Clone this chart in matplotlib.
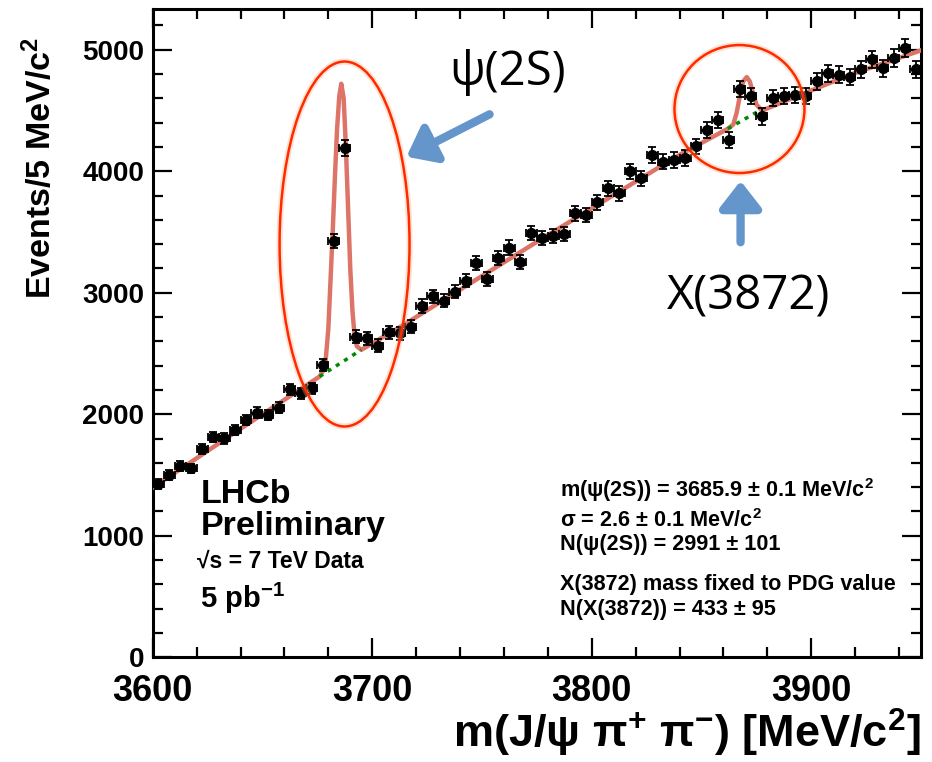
import numpy as np
import matplotlib
matplotlib.use('Agg')
import matplotlib.pyplot as plt
from matplotlib.patches import Ellipse, FancyArrowPatch

plt.rcParams['font.family'] = ['Liberation Sans', 'DejaVu Sans']
plt.rcParams['font.weight'] = 'bold'
plt.rcParams['mathtext.fontset'] = 'custom'
plt.rcParams['mathtext.rm'] = 'Liberation Sans:bold'
plt.rcParams['mathtext.it'] = 'Liberation Sans:bold'
plt.rcParams['mathtext.bf'] = 'Liberation Sans:bold'

# bin centres, 5 MeV bins
mass = np.arange(3602.5, 3950, 5)
counts = [1425, 1499, 1573, 1554, 1711, 1815, 1801, 1870, 1952, 2012,
          1993, 2054, 2205, 2172, 2213, 2405, 3425, 4190, 2638, 2625,
          2565, 2675, 2666, 2721, 2891, 2970, 2935, 3009, 3100, 3243,
          3114, 3284, 3372, 3256, 3490, 3449, 3468, 3484, 3655, 3641,
          3745, 3861, 3820, 3998, 3943, 4135, 4080, 4094, 4108, 4204,
          4341, 4423, 4259, 4676, 4621, 4451, 4602, 4621, 4629, 4621,
          4739, 4808, 4794, 4775, 4841, 4923, 4849, 4932, 5014, 4841]

# fit curve
fit_x = [3600, 3640, 3676, 3678.5, 3680, 3681, 3682, 3683, 3684, 3685,
         3685.9, 3687, 3688, 3689, 3690, 3691, 3692, 3693, 3695, 3713,
         3776, 3840, 3862, 3864.5, 3866, 3867.5, 3869, 3870.6, 3872,
         3873.5, 3875, 3877, 3879, 3917, 3950]
fit_y = [1395, 1880, 2310, 2385, 2700, 3100, 3500, 3950, 4350, 4620,
         4720, 4600, 4200, 3700, 3200, 2850, 2640, 2560, 2530, 2721,
         3430, 4135, 4350, 4385, 4480, 4620, 4740, 4775, 4740,
         4640, 4550, 4510, 4510, 4790, 4995]

# background only, under the two peaks
bkg1_x = [3676, 3695]
bkg1_y = [2310, 2530]
bkg2_x = [3862, 3877]
bkg2_y = [4350, 4505]

W, H = 932, 762
fig = plt.figure(figsize=(W / 100, H / 100), dpi=100)
ax = fig.add_axes([152.7 / W, 1 - 657.2 / H, (921 - 152.7) / W, (657.2 - 9.3) / H])

ax.plot(fit_x, fit_y, color='#dd7468', lw=3.2, zorder=3)
ax.plot(bkg1_x, bkg1_y, color='#008a00', lw=2.5, ls=(0, (1.2, 1.6)), zorder=3)
ax.plot(bkg2_x, bkg2_y, color='#008a00', lw=2.5, ls=(0, (1.2, 1.6)), zorder=3)
ax.errorbar(mass, counts, xerr=2.5, yerr=np.sqrt(counts), fmt='o', color='black',
            ms=7, elinewidth=1.3, capsize=3, capthick=1.3, zorder=4)

for (cx, cy, w, h) in [(3687.4, 3401, 59.2, 3004), (3867.3, 4512, 59.2, 1053)]:
    ax.add_patch(Ellipse((cx, cy), w, h, fill=False, ec='#ffb080', lw=4.5, alpha=0.35, zorder=5))
    ax.add_patch(Ellipse((cx, cy), w, h, fill=False, ec='#ff2a00', lw=1.8, zorder=6))

for (x0, y0, x1, y1) in [(3754.6, 4479, 3714.5, 4109), (3867.8, 3393, 3867.8, 3944)]:
    ax.add_patch(FancyArrowPatch((x0, y0), (x1, y1), arrowstyle='-|>,head_length=0.9,head_width=0.7',
                                 mutation_scale=18, color='#6496cc', lw=6, zorder=6))

ax.set_xlim(3600, 3950)
ax.set_ylim(0, 5333)
ax.set_xticks([3600, 3700, 3800, 3900])
ax.set_xticks(np.arange(3620, 3950, 20), minor=True)
ax.set_yticks([0, 1000, 2000, 3000, 4000, 5000])
ax.set_yticks(np.arange(200, 5333, 200), minor=True)
ax.tick_params(which='both', direction='in', top=True, right=True, width=1.6)
ax.tick_params(which='major', length=14)
ax.tick_params(which='minor', length=7)
ax.tick_params(axis='x', labelsize=26, pad=12)
ax.tick_params(axis='y', labelsize=20, pad=6)
for s in ax.spines.values():
    s.set_linewidth(2.2)

fig.text(40 / W, 1 - 168 / H, 'Events/5 MeV/c$^{2}$', rotation=90, fontsize=24.5,
         ha='center', va='center')
fig.text(921 / W, 1 - 748 / H, 'm(J/ψ π$^{+}$ π$^{-}$) [MeV/c$^{2}$]', fontsize=32.5,
         ha='right', va='baseline')

fig.text(201 / W, 1 - 503 / H, 'LHCb', fontsize=24.5, va='baseline')
fig.text(201 / W, 1 - 535 / H, 'Preliminary', fontsize=24.5, va='baseline')
fig.text(197 / W, 1 - 568 / H, '√s = 7 TeV Data', fontsize=16.5, va='baseline')
fig.text(200 / W, 1 - 608 / H, '5 pb$^{-1}$', fontsize=21, va='baseline')

stats = [('m(ψ(2S)) = 3685.9 ± 0.1 MeV/c$^{2}$', 497),
         ('σ = 2.6 ± 0.1 MeV/c$^{2}$', 527),
         ('N(ψ(2S)) = 2991 ± 101', 550),
         ('X(3872) mass fixed to PDG value', 590),
         ('N(X(3872)) = 433 ± 95', 615)]
for s, yy in stats:
    fig.text(560 / W, 1 - yy / H, s, fontsize=15.6, va='baseline')

fig.text(508 / W, 1 - 72 / H, 'ψ(2S)', fontsize=34, family=['Open Sans', 'DejaVu Sans'],
         weight='normal', ha='center', va='center')
fig.text(749 / W, 1 - 297 / H, 'X(3872)', fontsize=34, family=['Open Sans', 'DejaVu Sans'],
         weight='normal', ha='center', va='center')

fig.savefig('out.png', dpi=100)
